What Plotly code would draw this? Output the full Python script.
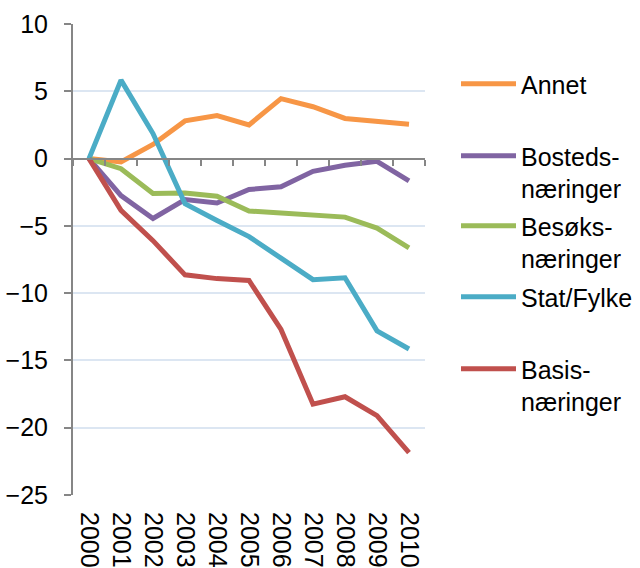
import plotly.graph_objects as go

# Years on the category axis
years = [str(y) for y in range(2000, 2011)]

# Employment change per sector (percent relative to 2000)
annet = [0, -0.25, 1.05, 2.8, 3.2, 2.5, 4.45, 3.85, 2.98, 2.8, 2.55]
bosteds = [0, -2.75, -4.45, -3.05, -3.3, -2.3, -2.1, -0.95, -0.5, -0.2, -1.65]
besoks = [0, -0.75, -2.6, -2.56, -2.8, -3.9, -4.05, -4.22, -4.35, -5.17, -6.63]
stat_fylke = [0, 5.83, 1.86, -3.35, -4.6, -5.8, -7.4, -9.0, -8.86, -12.8, -14.15]
basis = [0, -3.85, -6.1, -8.64, -8.92, -9.06, -12.7, -18.25, -17.7, -19.1, -21.85]

series_names = ["Annet", "Bosteds-<br>næringer", "Besøks-<br>næringer",
                "Stat/Fylke", "Basis-<br>næringer"]
series_values = [annet, bosteds, besoks, stat_fylke, basis]
series_colors = ["#F79646", "#8064A2", "#9BBB59", "#4BACC6", "#C0504D"]

# Top edge (px from the top of the figure) of each legend entry
legend_tops = [61, 133, 203, 274, 346]
legend_ids = ["legend", "legend2", "legend3", "legend4", "legend5"]

y_min, y_max = -25, 10
y_ticks = list(range(y_min, y_max + 1, 5))

W, H = 640, 568
FONT = "Liberation Sans, Arial, sans-serif"
AXIS_GREY = "#868686"
GRID = "#DCE6F2"

fig = go.Figure()
for name, vals, col, lid in zip(series_names, series_values, series_colors, legend_ids):
    fig.add_trace(go.Scatter(
        x=years, y=vals, name=name, mode="lines",
        line=dict(color=col, width=5),
        xaxis="x", yaxis="y", legend=lid,
    ))

# Invisible trace that carries the zero-level category axis with its tick marks
fig.add_trace(go.Scatter(x=years, y=[None] * len(years), xaxis="x2", yaxis="y",
                         showlegend=False, hoverinfo="skip", mode="lines"))

legend_style = dict(
    xref="container", yref="container", x=456 / W,
    xanchor="left", yanchor="top", valign="top",
    font=dict(family=FONT, size=25, color="black"),
    itemwidth=55, bgcolor="rgba(0,0,0,0)", borderwidth=0,
)
for lid, top in zip(legend_ids, legend_tops):
    fig.update_layout({lid: dict(legend_style, y=1 - top / H)})

fig.update_layout(
    width=W, height=H,
    margin=dict(l=73, r=215, t=24, b=73, autoexpand=False),
    paper_bgcolor="white", plot_bgcolor="white",
    font=dict(family=FONT, size=25, color="black"),
    showlegend=True,
    xaxis=dict(
        type="category", range=[-0.5, len(years) - 0.5], automargin=False,
        showline=False, showgrid=False, zeroline=False,
        ticks="", tickangle=90, ticklabelstandoff=16,
        tickfont=dict(family=FONT, size=25, color="black"),
    ),
    xaxis2=dict(
        type="category", overlaying="x", anchor="free", automargin=False,
        position=(0 - y_min) / (y_max - y_min),
        range=[-0.5, len(years) - 0.5],
        showline=True, linecolor=AXIS_GREY, linewidth=2,
        showgrid=False, zeroline=False,
        ticks="outside", tickson="boundaries", ticklen=6,
        tickcolor=AXIS_GREY, tickwidth=2, showticklabels=False,
    ),
    yaxis=dict(
        range=[y_min, y_max], tickvals=y_ticks, automargin=False,
        showline=True, linecolor=AXIS_GREY, linewidth=2,
        ticks="outside", ticklen=7, tickcolor=AXIS_GREY, tickwidth=2,
        showgrid=True, gridcolor=GRID, gridwidth=2,
        zeroline=False, ticklabelstandoff=11,
        tickfont=dict(family=FONT, size=25, color="black"),
    ),
)

fig.write_html("out.html")
